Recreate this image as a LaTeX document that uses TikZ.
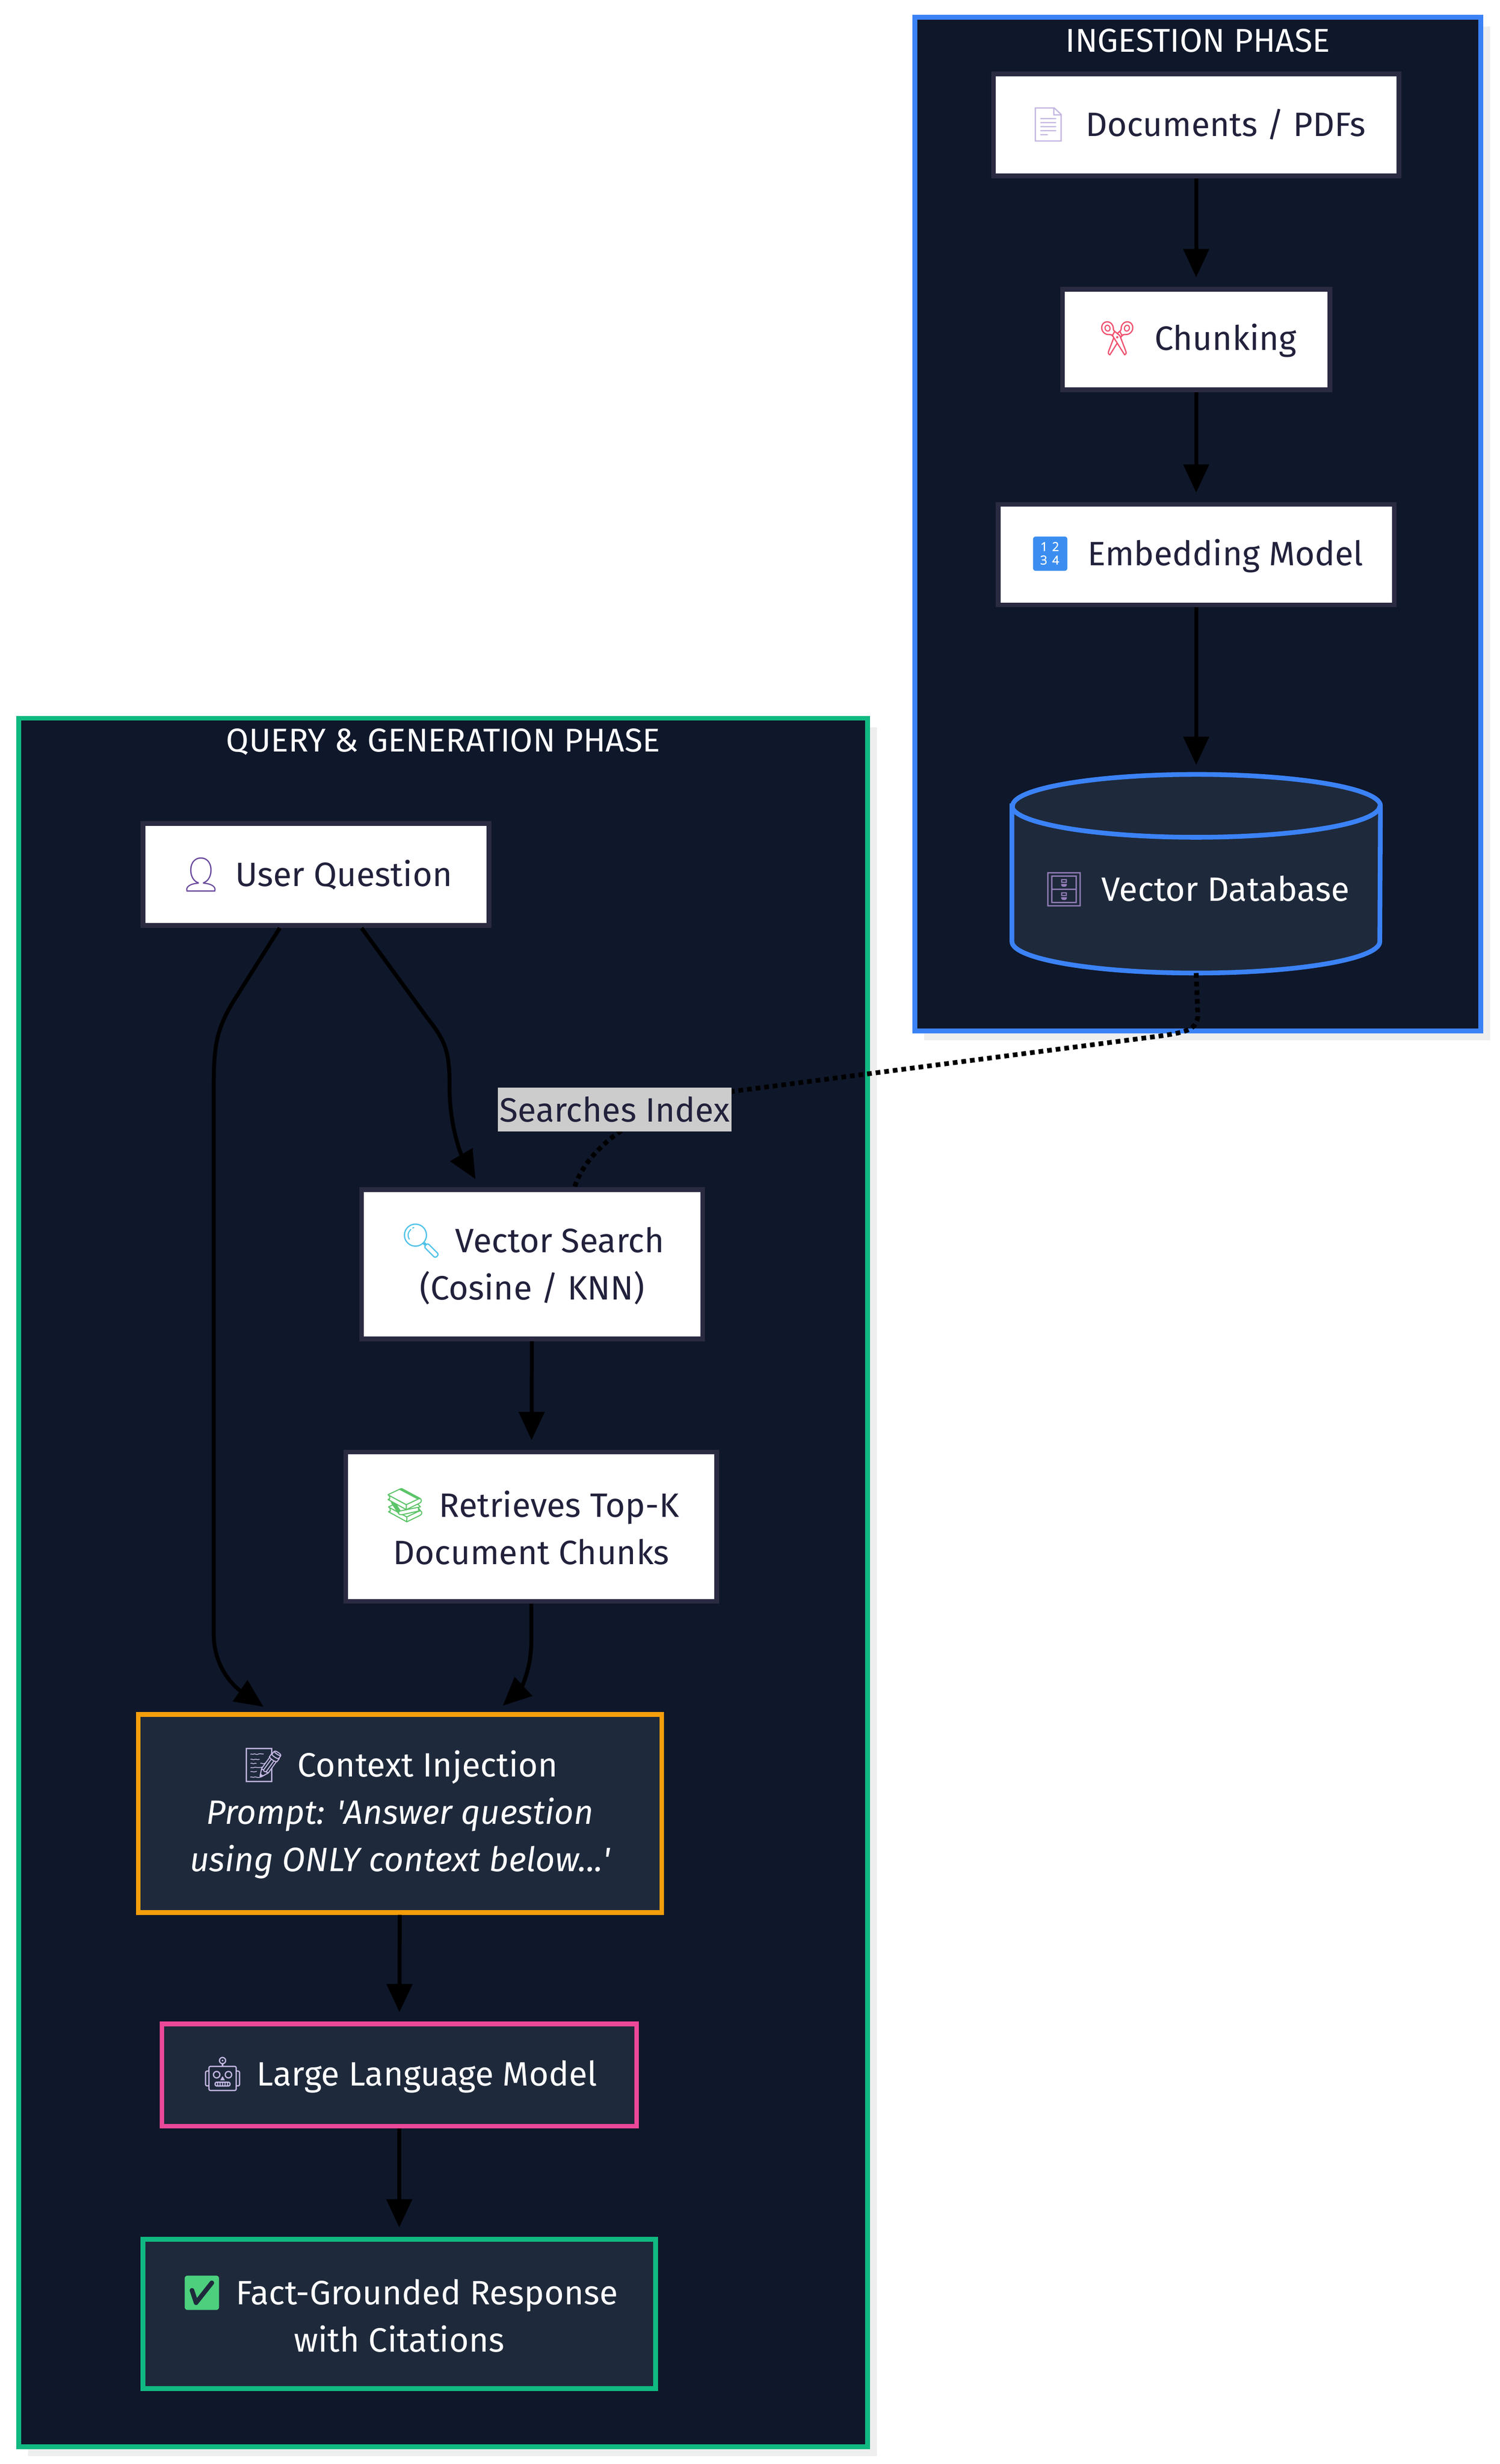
\documentclass[tikz,border=0pt]{standalone}
\usepackage{fontspec}
\setmainfont{Fira Sans}
\newfontfamily\emoji{Noto Emoji}
\usetikzlibrary{arrows.meta,shadows}
\definecolor{navy}{RGB}{15,23,42}
\definecolor{slate}{RGB}{30,41,59}
\definecolor{ink}{RGB}{33,33,60}
\definecolor{rim}{RGB}{42,42,66}
\definecolor{ingblue}{RGB}{59,130,246}
\definecolor{qgreen}{RGB}{16,185,129}
\definecolor{ctxorange}{RGB}{245,158,11}
\definecolor{llmpink}{RGB}{236,72,153}
\definecolor{shade}{RGB}{238,238,238}
\definecolor{lblgrey}{RGB}{204,204,204}
\definecolor{icolav}{RGB}{196,184,226}
\definecolor{icored}{RGB}{240,80,110}
\definecolor{icoblue}{RGB}{59,142,240}
\definecolor{icopurple}{RGB}{104,72,156}
\definecolor{icocyan}{RGB}{79,195,232}
\definecolor{icogreen}{RGB}{92,196,104}
\definecolor{icocheck}{RGB}{76,208,125}

\begin{document}
\begin{tikzpicture}[x=1pt, y=-1pt,
    phase/.style={fill=navy, line width=3pt, inner sep=0pt,
      drop shadow={shadow xshift=6pt, shadow yshift=-6pt, fill=shade, opacity=1}},
    phasetitle/.style={text=white, font=\fontsize{21}{25}\selectfont},
    lightbox/.style={draw=rim, fill=white, text=ink, line width=3pt, align=center,
      inner sep=0pt, font=\fontsize{21.5}{30}\selectfont},
    darkbox/.style={fill=slate, text=white, line width=3pt, align=center,
      inner sep=0pt, font=\fontsize{21.5}{30}\selectfont},
    flow/.style={line width=2.5pt, -{Triangle[length=18pt,width=16pt]}, shorten >=6pt},
    idxline/.style={line width=3pt, dash pattern=on 3pt off 2.5pt}]

\useasboundingbox[fill=white] (0,0) rectangle (954,1568);

\node[phase, draw=ingblue, minimum width=360, minimum height=645] (ing) at (762,333.5) {};
\node[phase, draw=qgreen, minimum width=540, minimum height=1100] (qry) at (282,1007) {};
\node[phasetitle] (ingt) at (762,26) {INGESTION PHASE};
\node[phasetitle] (qryt) at (282,472) {QUERY \& GENERATION PHASE};

\node[lightbox, minimum width=258, minimum height=65] (docs) at (761,79.5)
  {{\emoji\textcolor{icolav}{📄}}\hspace{10pt}Documents / PDFs};
\node[lightbox, minimum width=170, minimum height=64] (chunk) at (761,216)
  {{\emoji\textcolor{icored}{✂}}\hspace{10pt}Chunking};
\node[lightbox, minimum width=252, minimum height=64] (embed) at (761,353)
  {{\emoji\textcolor{icoblue}{🔢}}\hspace{10pt}Embedding Model};

\node[minimum width=234, minimum height=126, inner sep=0pt] (vdb) at (761,556) {};
\draw[line width=3pt, draw=ingblue, fill=slate] ([yshift=-20pt]vdb.north west)
  -- ([yshift=20pt]vdb.south west) arc[start angle=180, end angle=360, x radius=117pt, y radius=20pt]
  -- ([yshift=-20pt]vdb.north east) arc[start angle=0, end angle=180, x radius=117pt, y radius=20pt] -- cycle;
\draw[line width=3pt, draw=ingblue] ([yshift=-20pt]vdb.north west)
  arc[start angle=180, end angle=360, x radius=117pt, y radius=20pt];
\node[text=white, font=\fontsize{21.5}{30}\selectfont] (vdbl) at ([yshift=-10pt]vdb.center)
  {{\emoji\textcolor{icopurple!70!white}{🗄}}\hspace{10pt}Vector Database};

\node[lightbox, minimum width=220, minimum height=65] (user) at (201,556.5)
  {{\emoji\textcolor{icopurple}{👤}}\hspace{8pt}User Question};
\node[lightbox, minimum width=217, minimum height=95] (search) at (338.5,804.5)
  {{\emoji\textcolor{icocyan}{🔍}}\hspace{8pt}Vector Search\\(Cosine / KNN)};
\node[lightbox, minimum width=236, minimum height=95] (topk) at (338,971.5)
  {{\emoji\textcolor{icogreen}{📚}}\hspace{8pt}Retrieves Top-K\\Document Chunks};
\node[darkbox, draw=ctxorange, minimum width=333, minimum height=126] (ctx) at (254.5,1154)
  {{\emoji\textcolor{icolav}{📝}}\hspace{8pt}Context Injection\\\itshape Prompt: \textquotesingle Answer question\\\itshape using ONLY context below...\textquotesingle};
\node[darkbox, draw=llmpink, minimum width=302, minimum height=65] (llm) at (254,1320.5)
  {{\emoji\textcolor{icolav}{🤖}}\hspace{8pt}Large Language Model};
\node[darkbox, draw=qgreen, minimum width=326, minimum height=95] (resp) at (254,1472.5)
  {{\emoji\textcolor{icocheck}{✅}}\hspace{8pt}Fact-Grounded Response\\with Citations};

\draw[flow] (docs) -- (chunk);
\draw[flow] (chunk) -- (embed);
\draw[flow] (embed) -- (vdb);
\draw[flow] ([xshift=29pt]user.south) -- (272,648) .. controls (284,663) and (286,670) .. (286,692)
  .. controls (286,716) and (293,734) .. ([xshift=-33pt]search.north);
\draw[flow] ([xshift=-23pt]user.south) -- (148,638) .. controls (138,655) and (136,665) .. (136,690)
  -- (136,1040) .. controls (136,1062) and (150,1074) .. ([xshift=-82pt]ctx.north);
\draw[flow] (search) -- (topk);
\draw[flow] (topk.south) -- (338,1045) .. controls (338,1064) and (330,1076) .. ([xshift=61pt]ctx.north);
\draw[flow] (ctx) -- (llm);
\draw[flow] (llm) -- (resp);

\draw[idxline] (vdb.south) -- (762,646) .. controls (762,656) and (752,657) .. (740,659)
  -- (470,694) .. controls (400,703) and (372,735) .. ([xshift=27pt]search.north);
\node[fill=lblgrey, text=ink, inner xsep=1pt, inner ysep=0pt, minimum height=28,
  font=\fontsize{21.5}{24}\selectfont] (idx) at (391,706) {Searches Index};

\end{tikzpicture}
\end{document}
